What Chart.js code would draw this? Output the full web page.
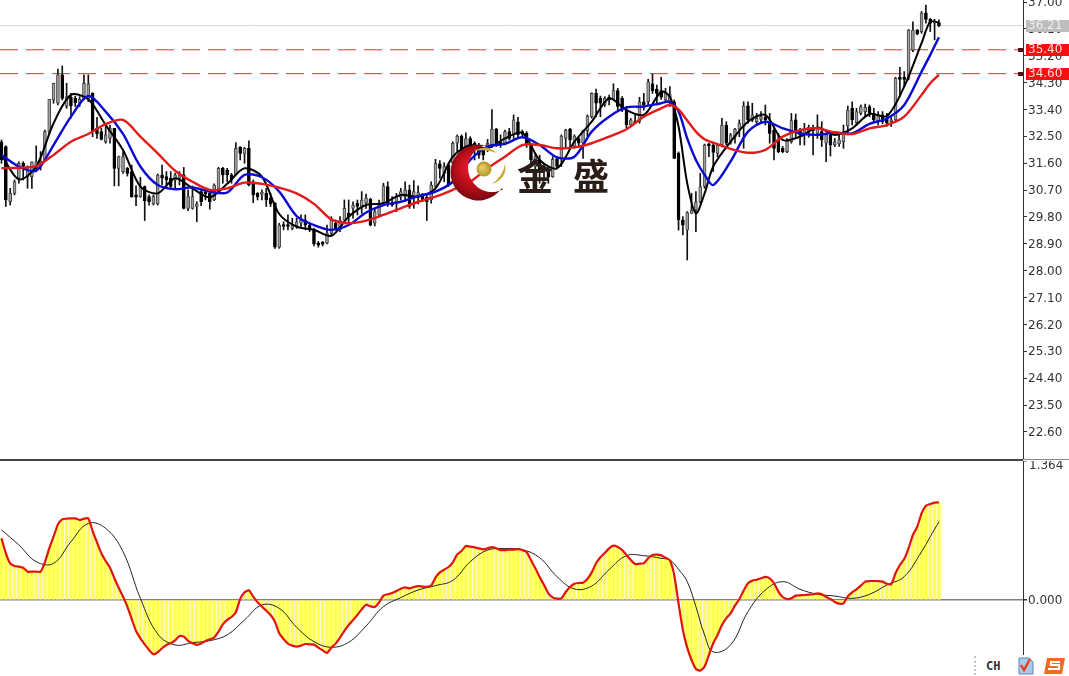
<!DOCTYPE html>
<html>
<head>
<meta charset="utf-8">
<script src="https://cdn.jsdelivr.net/npm/chart.js@4/dist/chart.umd.min.js"></script>
<style>
html, body { margin: 0; padding: 0; background: #fff; overflow: hidden; }
#page { position: relative; width: 1069px; height: 676px; overflow: hidden; }
canvas { position: absolute; left: 0; }
#priceChart { top: 0; }
#macdChart { top: 461px; }
#divider { position: absolute; left: 0; top: 459px; width: 1023px; height: 2px; background: #444; }
#dividerRight { position: absolute; left: 1023px; top: 459px; width: 46px; height: 1px; background: #888; }
#tray { position: absolute; left: 970px; top: 655px; width: 99px; height: 21px; background: #fff; }
#dots { position: absolute; left: 4px; top: 1px; height: 19px; border-left: 2px dotted #c4c4c4; }
#lang { position: absolute; left: 16px; top: 4px; font: bold 12px "DejaVu Sans Mono", monospace; color: #333; }
#tray svg { position: absolute; top: 2px; }
</style>
</head>
<body>
<div id="page">
  <canvas id="priceChart" width="1069" height="459"></canvas>
  <div id="divider"></div>
  <div id="dividerRight"></div>
  <canvas id="macdChart" width="1069" height="215"></canvas>
  <div id="tray">
    <div id="dots"></div>
    <div id="lang">CH</div>
    <svg style="left:47px" width="18" height="18" viewBox="0 0 18 18">
      <path d="M2 1h10l4 4v12H2z" fill="#a9c8ea" stroke="#5f86b5"/>
      <path d="M4 8l3 5 6-11" fill="none" stroke="#e8401c" stroke-width="2.4"/>
    </svg>
    <svg style="left:72px" width="24" height="18" viewBox="0 0 24 18">
      <path d="M5 1h18l-3 16H2z" fill="#ef6c22"/>
      <path d="M18 5H9v3h8v4H6" fill="none" stroke="#fff" stroke-width="2.2"/>
    </svg>
  </div>
</div>
<script>
const opens = [
  32.32,32.16,30.31,30.59,31.10,31.60,31.15,31.15,31.43,31.60,
  31.71,32.66,33.72,33.61,34.56,33.50,33.81,33.77,33.61,33.77,
  33.77,33.94,32.77,32.66,32.32,32.43,32.77,31.43,31.32,31.43,
  31.32,30.54,30.48,30.82,30.48,30.24,30.24,31.21,31.15,31.10,
  31.04,31.10,31.21,30.09,30.09,30.15,30.65,30.65,30.59,30.37,
  30.76,31.43,31.37,31.21,31.21,32.13,31.93,32.10,30.93,30.59,
  30.56,30.59,30.43,30.26,28.79,29.53,29.53,29.42,29.51,29.59,
  29.70,29.53,29.37,28.92,28.92,28.92,29.26,29.59,29.37,29.70,
  29.92,30.09,30.26,30.15,30.26,30.39,29.59,29.87,30.28,30.82,
  30.26,30.31,30.46,30.48,30.71,30.46,30.46,30.48,30.46,30.37,
  30.82,31.58,31.26,31.54,31.60,32.27,32.51,32.10,32.43,32.27,
  32.21,32.04,32.10,32.18,32.74,32.32,32.27,32.66,32.55,32.99,
  32.66,32.60,32.21,31.49,31.71,31.49,31.32,31.15,31.76,31.76,
  32.43,32.74,32.16,32.43,32.27,32.69,33.16,33.94,33.77,33.55,
  33.81,33.74,34.03,33.77,33.38,32.88,32.99,32.99,33.66,33.66,
  34.26,34.08,34.03,33.72,33.61,33.66,31.93,29.70,29.36,29.92,
  30.03,30.31,30.82,32.21,32.21,31.93,32.21,32.88,32.27,32.49,
  32.74,32.83,33.52,33.05,32.99,33.07,33.14,32.99,32.71,32.38,
  32.10,31.99,32.32,33.05,32.71,32.55,32.66,32.77,32.60,32.66,
  32.27,32.55,32.21,32.25,32.32,32.85,33.44,32.96,33.27,33.33,
  33.50,33.27,32.99,33.22,33.10,32.99,33.05,34.48,34.44,34.44,
  35.39,36.06,36.01,36.64,36.42,36.29,36.31
];
const highs = [
  32.38,32.18,30.76,31.04,31.65,31.65,31.51,31.65,32.18,31.99,
  32.71,33.74,34.28,34.75,34.86,34.28,33.94,33.85,33.83,34.56,
  34.56,33.96,33.14,32.77,32.83,32.88,32.77,31.84,31.99,31.46,
  31.54,30.84,31.13,30.84,30.54,30.54,31.24,31.54,31.32,31.32,
  31.26,31.32,31.46,30.71,30.84,30.31,30.71,30.71,30.65,30.91,
  31.46,31.46,31.43,31.26,32.29,32.16,32.13,32.35,31.04,30.62,
  30.71,30.76,30.59,30.28,29.59,29.64,29.87,29.76,29.76,29.87,
  29.87,29.59,29.42,28.98,28.98,29.53,29.81,29.70,29.81,30.37,
  30.37,30.31,30.37,30.65,30.57,30.43,30.09,30.37,30.93,30.98,
  30.48,30.59,30.76,30.98,30.87,31.02,30.84,30.59,30.54,30.98,
  31.73,31.69,31.62,31.60,32.32,32.55,32.55,32.62,32.49,32.32,
  32.27,32.10,32.40,33.40,32.77,32.55,32.71,32.77,33.22,33.14,
  32.71,32.66,32.27,31.93,31.87,31.60,31.49,31.82,31.82,32.55,
  32.74,32.77,32.55,32.49,32.71,33.22,33.96,34.08,33.85,33.83,
  33.88,34.26,34.11,33.83,33.50,33.10,33.22,33.81,33.94,34.41,
  34.59,34.22,34.48,34.11,34.17,33.72,31.98,29.81,29.98,30.59,
  30.65,31.26,32.24,32.27,32.27,32.24,33.10,32.99,32.60,32.77,
  33.05,33.66,33.66,33.61,33.27,33.33,33.55,33.27,32.77,32.60,
  32.16,32.43,33.27,33.25,32.77,32.94,32.88,32.88,33.22,32.99,
  32.60,32.66,32.43,32.55,32.88,33.52,33.66,33.44,33.55,33.58,
  33.55,33.44,33.33,33.33,33.27,33.16,34.48,34.81,34.67,36.08,
  36.34,36.08,36.68,36.90,36.45,36.42,36.40
];
const lows = [
  31.60,30.15,30.20,30.54,30.93,31.04,30.76,30.76,31.32,31.37,
  31.65,32.60,33.61,33.55,33.72,33.44,33.11,33.50,33.50,33.72,
  33.66,32.49,32.43,32.38,32.27,32.27,30.84,30.84,31.26,31.17,
  30.46,30.18,30.46,29.68,30.20,30.20,30.20,30.87,30.76,30.76,
  30.76,30.87,30.07,30.01,30.06,29.64,30.18,30.37,30.06,30.35,
  30.65,30.93,30.98,30.93,31.21,31.71,31.60,30.84,30.28,30.37,
  30.37,30.15,30.15,28.75,28.75,29.37,29.37,29.37,29.42,29.42,
  29.37,29.31,28.83,28.79,28.83,28.90,29.20,29.37,29.31,29.59,
  29.59,29.76,29.87,29.92,30.09,29.50,29.50,29.81,30.24,30.15,
  30.15,29.98,30.37,30.31,30.09,30.09,30.24,30.31,29.68,30.26,
  30.76,31.10,30.98,30.82,31.43,31.99,31.93,31.93,31.82,31.71,
  31.76,31.71,31.99,32.13,32.16,32.13,32.21,32.38,32.43,32.47,
  32.51,32.13,31.60,31.37,30.93,31.10,30.93,31.13,31.43,31.49,
  32.10,32.10,32.10,32.16,31.76,32.49,33.11,33.16,33.16,33.50,
  33.55,33.72,33.38,33.33,32.77,32.83,32.94,32.94,33.38,33.55,
  33.94,33.55,33.74,33.66,33.50,31.76,29.36,29.20,28.36,29.92,
  29.31,30.26,30.76,31.82,31.32,31.82,32.15,32.21,32.24,32.27,
  32.49,32.10,32.94,32.99,32.88,32.94,32.88,32.27,31.71,31.95,
  31.95,31.95,32.27,32.49,32.21,32.21,32.47,31.88,32.43,32.16,
  31.65,31.84,32.16,32.16,32.10,32.55,32.88,32.88,33.22,33.16,
  33.16,32.99,32.88,32.92,32.83,32.83,32.99,33.83,34.17,34.39,
  35.34,35.90,35.95,36.29,36.01,35.73,36.17
];
const closes = [
  31.71,30.37,30.59,30.98,31.60,31.49,31.49,31.65,31.65,31.65,
  32.66,33.74,34.28,34.56,33.77,33.83,33.52,33.63,33.74,34.28,
  34.26,32.66,32.58,32.40,32.55,32.77,31.43,31.82,31.82,31.26,
  30.48,30.46,30.82,30.35,30.31,30.48,31.21,31.10,31.04,30.82,
  31.21,31.21,30.09,30.48,30.48,30.24,30.31,30.57,30.31,30.87,
  31.43,31.21,31.21,31.04,32.10,31.93,32.10,30.87,30.54,30.48,
  30.59,30.37,30.24,28.79,29.53,29.48,29.48,29.51,29.64,29.70,
  29.53,29.37,28.90,28.86,28.89,29.26,29.70,29.42,29.70,30.09,
  29.81,30.20,30.15,30.37,30.43,29.53,29.98,30.26,30.84,30.26,
  30.20,30.48,30.65,30.71,30.15,30.65,30.62,30.37,30.31,30.87,
  31.60,31.43,31.49,30.87,32.27,32.51,32.04,32.43,31.87,32.16,
  31.87,31.87,32.27,32.74,32.27,32.21,32.66,32.43,33.05,32.55,
  32.58,32.21,31.71,31.82,31.37,31.37,31.15,31.73,31.49,32.51,
  32.71,32.38,32.51,32.27,32.69,33.18,33.94,33.61,33.61,33.77,
  33.72,34.03,33.50,33.38,32.88,33.05,32.94,33.66,33.55,34.33,
  34.03,33.94,33.81,33.99,33.92,31.76,29.70,29.53,29.95,30.03,
  30.31,30.82,32.21,32.18,31.96,32.21,32.88,32.27,32.55,32.74,
  32.94,33.52,33.05,33.22,33.10,33.16,33.05,32.60,32.10,31.99,
  31.99,32.38,33.03,32.66,32.55,32.77,32.80,32.69,32.77,32.38,
  32.55,32.21,32.32,32.38,32.66,33.38,33.05,33.33,33.50,33.47,
  33.27,33.05,33.22,32.99,32.94,33.05,34.44,34.41,34.41,36.06,
  36.06,35.93,36.64,36.42,36.29,36.34,36.21
];

const lineBars = [
  0,4,8,12,16,20,24,28,32,36,40,44,48,52,56,60,64,68,72,76,
  80,84,88,92,96,100,104,108,112,116,120,124,128,132,136,140,144,148,152,
  154,156,158,160,162,164,168,172,176,180,184,188,192,196,200,204,208,212,214,216
];
const maFast = [
  31.88,31.06,31.49,32.94,33.89,33.74,32.88,32.04,30.82,30.59,31.10,30.76,30.46,30.91,31.43,31.15,29.90,29.48,29.37,29.17,
  29.81,30.20,30.26,30.54,30.48,30.76,31.82,32.21,32.10,32.43,32.62,31.71,31.43,32.32,32.99,33.77,33.38,33.22,33.99,
  33.83,32.83,30.93,29.92,30.59,31.49,32.32,32.99,33.22,32.38,32.49,32.80,32.55,32.77,33.25,33.18,34.17,35.62,36.34,36.31
];
const maMid = [
  31.88,31.49,31.35,32.21,33.16,33.85,33.33,32.58,31.49,30.87,30.73,30.79,30.65,30.62,31.21,31.13,30.65,29.83,29.53,29.37,
  29.53,29.95,30.20,30.31,30.50,30.65,30.98,31.71,32.16,32.25,32.47,32.21,31.80,31.82,32.66,33.16,33.47,33.50,33.61,
  33.66,33.33,32.43,31.71,31.21,30.87,31.66,32.66,32.99,32.77,32.60,32.55,32.63,32.60,32.92,33.10,33.55,34.67,35.23,35.82
];
const maSlow = [
  31.43,31.45,31.50,31.88,32.32,32.58,32.91,33.05,32.49,31.93,31.35,30.98,30.71,30.76,30.95,30.91,30.78,30.59,30.24,29.72,
  29.59,29.68,29.87,30.09,30.31,30.48,30.71,30.98,31.43,31.82,32.21,32.21,32.10,32.13,32.27,32.49,32.74,33.16,33.44,
  33.55,33.40,33.03,32.66,32.40,32.29,32.08,31.95,32.05,32.49,32.71,32.77,32.63,32.58,32.77,32.88,33.16,33.89,34.28,34.56
];

const priceTicks = [37.00,36.10,35.20,34.30,33.40,32.50,31.60,30.70,29.80,28.90,28.00,27.10,26.20,25.30,24.40,23.50,22.60];
const bidLevel = 36.21;
const alertLevels = [35.40, 34.60];

const macdValues = [
  .605,.458,.360,.334,.327,.317,.278,.278,.278,.278,
  .370,.507,.621,.742,.791,.798,.801,.801,.785,.798,
  .801,.677,.566,.458,.383,.317,.213,.121,.033,-.065,
  -.186,-.304,-.376,-.435,-.490,-.533,-.513,-.474,-.441,-.425,
  -.396,-.353,-.360,-.402,-.425,-.441,-.428,-.402,-.386,-.369,
  -.311,-.239,-.196,-.167,-.121,.010,.075,.095,.033,-.023,
  -.065,-.105,-.147,-.213,-.327,-.383,-.428,-.448,-.458,-.448,
  -.432,-.435,-.438,-.468,-.494,-.520,-.468,-.428,-.369,-.304,
  -.245,-.196,-.147,-.092,-.046,-.062,-.069,-.023,.043,.056,
  .069,.088,.111,.124,.114,.128,.137,.131,.128,.141,
  .219,.271,.298,.324,.370,.448,.481,.530,.523,.517,
  .507,.497,.507,.520,.507,.490,.490,.494,.494,.500,
  .490,.471,.392,.311,.226,.147,.065,.026,.013,.016,
  .078,.128,.160,.167,.170,.206,.271,.360,.419,.461,
  .507,.533,.520,.490,.441,.392,.353,.356,.360,.409,
  .441,.445,.438,.415,.389,.245,-.033,-.294,-.468,-.589,
  -.677,-.693,-.654,-.539,-.425,-.343,-.245,-.180,-.131,-.056,
  .007,.092,.164,.190,.199,.213,.226,.213,.164,.082,
  .029,.010,.016,.043,.046,.049,.052,.056,.065,.056,
  .029,.010,-.020,-.036,-.033,.036,.075,.105,.141,.180,
  .186,.186,.186,.180,.160,.154,.262,.343,.402,.507,
  .638,.719,.850,.925,.942,.955,.958
];
const macdSignal = [
  .687,.540,.376,.360,.572,.752,.703,.474,.016,-.334,-.441,-.419,-.399,-.343,-.196,-.049,-.082,-.268,-.409,-.464,
  -.415,-.255,-.065,.023,.098,.141,.193,.376,.490,.504,.494,.415,.229,.108,.137,.298,.435,.435,.409,
  .392,.301,.180,-.065,-.343,-.510,-.441,-.114,.098,.180,.105,.056,.039,.016,.056,.147,.229,.474,.621,.768
];
const macdTicks = [1.364, 0];

const barStep = 4.34;          // px between candles
const plotWidth = 1023;
const xMin = -1.5 / barStep;
const xMax = (plotWidth - 1.5) / barStep;

const candleBars = closes.map((c, i) => i);
const isUp = candleBars.map(i => closes[i] >= opens[i]);
const pairs = (xs, ys) => xs.map((x, i) => ({ x: x, y: ys[i] }));
const level = v => [{ x: xMin, y: v }, { x: xMax, y: v }];

function xScale() {
  return { type: 'linear', display: false, min: xMin, max: xMax, offset: false, grid: { display: false } };
}

function lineSet(data, color, width, order, tension) {
  return {
    type: 'line', data: data, borderColor: color, borderWidth: width,
    pointRadius: 0, fill: false, tension: tension, order: order
  };
}

function levelSet(value, color, dash) {
  return {
    type: 'line', data: level(value), borderColor: color, borderWidth: 1,
    borderDash: dash, pointRadius: 0, fill: false, order: 9
  };
}

// right axis keeps its width and lets the labels hang over the pane edges
function fitAxis(scale) {
  scale.width = 46;
  scale.paddingTop = 0;
  scale.paddingBottom = 0;
}

// price tags on the right axis and the watermark
const priceOverlay = {
  id: 'priceOverlay',
  afterDatasetsDraw(chart) {
    const c = chart.ctx;
    // crescent
    c.save();
    const grad = c.createRadialGradient(470, 165, 4, 478, 172, 30);
    grad.addColorStop(0, '#e0182a');
    grad.addColorStop(0.6, '#b30d18');
    grad.addColorStop(1, '#6e0a10');
    c.fillStyle = grad;
    c.beginPath();
    c.arc(478.5, 172.5, 28, 0.593, -1.238, false);
    c.arc(492, 168, 24, -1.743, 1.088, true);
    c.closePath();
    c.fill();
    // gold swooshes and ball
    c.fillStyle = '#c9a93a';
    c.beginPath();
    c.moveTo(474, 151);
    c.quadraticCurveTo(486, 143, 497, 153);
    c.quadraticCurveTo(486, 149, 474, 151);
    c.fill();
    c.beginPath();
    c.moveTo(505, 164);
    c.quadraticCurveTo(508, 178, 492, 184);
    c.quadraticCurveTo(503, 176, 505, 164);
    c.fill();
    const ball = c.createRadialGradient(482, 167, 1, 484, 170, 8);
    ball.addColorStop(0, '#e6cf63');
    ball.addColorStop(1, '#b08f24');
    c.fillStyle = ball;
    c.beginPath();
    c.arc(484, 169, 7.5, 0, Math.PI * 2);
    c.fill();
    c.fillStyle = '#2b1d18';
    c.font = 'bold 36px "Noto Sans CJK SC"';
    c.textBaseline = 'middle';
    c.textAlign = 'left';
    c.fillText('金', 517, 176);
    c.fillText('盛', 573, 176);
    c.restore();
  },
  afterDraw(chart) {
    const c = chart.ctx, y = chart.scales.y;
    const tag = (v, bg, fg) => {
      const py = Math.round(y.getPixelForValue(v));
      c.fillStyle = bg;
      c.fillRect(1026, py - 6, 43, 12);
      c.fillStyle = fg;
      c.font = '12px "DejaVu Sans"';
      c.textAlign = 'left';
      c.textBaseline = 'middle';
      c.fillText(v.toFixed(2), 1028, py);
    };
    c.save();
    tag(bidLevel, '#bdbdbd', '#efefef');
    alertLevels.forEach(v => {
      const py = Math.round(y.getPixelForValue(v));
      c.fillStyle = '#5a0c0c';
      c.fillRect(1018, py - 2, 5, 4);
      tag(v, '#f70f0f', '#ffd8d8');
    });
    c.restore();
  }
};

new Chart(document.getElementById('priceChart').getContext('2d'), {
  data: {
    datasets: [
      levelSet(bidLevel, '#d4d4d4', []),
      levelSet(alertLevels[0], '#e0303a', [18, 8]),
      levelSet(alertLevels[1], '#e0303a', [18, 8]),
      {
        type: 'bar',
        data: candleBars.map(i => ({ x: i, y: [lows[i], highs[i]] })),
        backgroundColor: '#111', barThickness: 1, grouped: false, order: 8
      },
      {
        type: 'bar',
        data: candleBars.map(i => ({ x: i, y: [Math.min(opens[i], closes[i]), Math.max(opens[i], closes[i])] })),
        backgroundColor: candleBars.map(i => isUp[i] ? '#a0a0a0' : '#000'),
        borderColor: candleBars.map(i => isUp[i] ? '#444' : '#000'),
        borderWidth: 1, borderSkipped: false, barThickness: 3, minBarLength: 2, grouped: false, order: 7
      },
      lineSet(pairs(lineBars, maFast), '#000', 2, 3, 0.3),
      lineSet(pairs(lineBars, maMid), '#0a0ad2', 2.4, 2, 0.3),
      lineSet(pairs(lineBars, maSlow), '#e21a1a', 2.4, 1, 0.3)
    ]
  },
  options: {
    responsive: false, animation: false, devicePixelRatio: 1,
    layout: { padding: 0 },
    plugins: { legend: { display: false }, tooltip: { enabled: false } },
    scales: {
      x: xScale(),
      y: {
        position: 'right', min: 21.695, max: 37.067,
        afterFit: fitAxis,
        afterBuildTicks(scale) { scale.ticks = priceTicks.map(v => ({ value: v })); },
        border: { color: '#333', width: 1 },
        grid: { drawOnChartArea: false, drawTicks: true, tickLength: 4, tickColor: '#333' },
        ticks: {
          color: '#333', padding: 1, labelOffset: 1, font: { family: 'DejaVu Sans', size: 12 },
          callback: v => v.toFixed(2)
        }
      }
    }
  },
  plugins: [priceOverlay]
});

const macdOverlay = {
  id: 'macdOverlay',
  afterDraw(chart) {
    const c = chart.ctx;
    c.save();
    c.fillStyle = '#333';
    c.font = '12px "DejaVu Sans"';
    c.textAlign = 'left';
    c.textBaseline = 'middle';
    c.fillText(macdTicks[0].toFixed(3), 1029, 5);
    c.restore();
  }
};

new Chart(document.getElementById('macdChart').getContext('2d'), {
  data: {
    datasets: [
      {
        type: 'bar', data: pairs(candleBars, macdValues),
        backgroundColor: '#ffff55', barThickness: 3, grouped: false, order: 5
      },
      lineSet(pairs(lineBars, macdSignal), '#222', 1, 2, 0.4),
      lineSet(pairs(candleBars, macdValues), '#e01414', 2.2, 1, 0.2)
    ]
  },
  options: {
    responsive: false, animation: false, devicePixelRatio: 1,
    layout: { padding: 0 },
    plugins: { legend: { display: false }, tooltip: { enabled: false } },
    scales: {
      x: xScale(),
      y: {
        position: 'right', min: -0.746, max: 1.364,
        afterFit: fitAxis,
        afterBuildTicks(scale) { scale.ticks = macdTicks.map(v => ({ value: v })); },
        border: { color: '#333', width: 1 },
        grid: {
          drawTicks: true, tickLength: 4, tickColor: '#333', lineWidth: 1.5,
          color: ctx => ctx.tick && ctx.tick.value === 0 ? '#808080' : 'rgba(0,0,0,0)'
        },
        ticks: {
          color: '#333', padding: 1, labelOffset: 1, font: { family: 'DejaVu Sans', size: 12 },
          callback: v => v === 0 ? v.toFixed(3) : ''
        }
      }
    }
  },
  plugins: [macdOverlay]
});
</script>
</body>
</html>
